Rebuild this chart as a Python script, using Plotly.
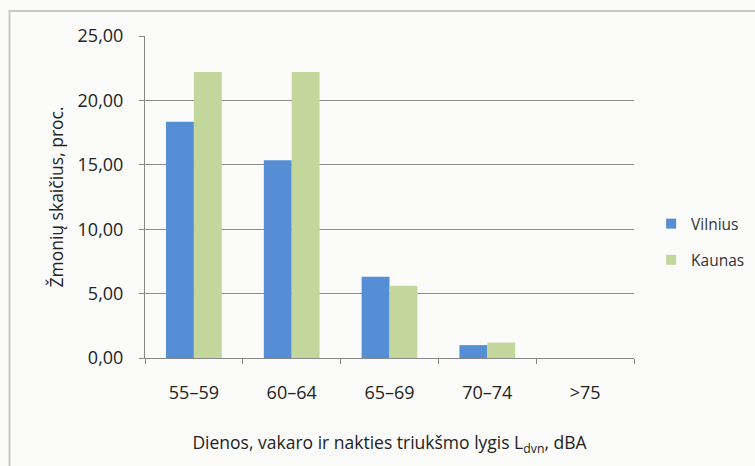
import plotly.graph_objects as go

categories = ["55\u201359", "60\u201364", "65\u201369", "70\u201374", ">75"]
vilnius = [18.35, 15.35, 6.3, 1.0, 0.0]
kaunas = [22.2, 22.2, 5.6, 1.2, 0.0]
series_names = ["Vilnius", "Kaunas"]
colors = ["#558ed5", "#c3d69b"]
y_ticks = [0, 5, 10, 15, 20, 25]

L, R, T, B = 145, 634, 36, 358
W, H = 755, 466

fig = go.Figure()
for name, vals, col in zip(series_names, [vilnius, kaunas], colors):
    fig.add_trace(go.Bar(name=name, x=categories, y=vals, marker_color=col,
                         marker_line_width=0, showlegend=False))
for name, col in zip(series_names, colors):
    fig.add_trace(go.Scatter(name=name, x=[None], y=[None], mode="markers",
                             marker=dict(symbol="square", size=10, color=col),
                             legendgroup=name, showlegend=True))

font_family = "Open Sans, Liberation Sans, sans-serif"
fig.update_layout(
    width=W, height=H,
    margin=dict(l=L, r=W - R, t=T, b=H - B, autoexpand=False),
    paper_bgcolor="#fbfcfa", plot_bgcolor="#fbfcfa",
    barmode="group", bargap=0.43, bargroupgap=0,
    separators=", ",
    font=dict(family=font_family, size=18, color="#333333"),
    showlegend=True,
    legend=dict(x=1.035, y=0.36, xanchor="left", yanchor="middle",
                bgcolor="rgba(0,0,0,0)", font=dict(size=15.5, color="#333333"),
                tracegroupgap=13, itemwidth=30),
    xaxis=dict(
        showline=True, linecolor="#888888", linewidth=1,
        ticks="outside", tickson="boundaries", ticklen=5, tickcolor="#888888",
        showgrid=False,
        title=dict(text="Dienos, vakaro ir nakties triukšmo lygis L<sub>dvn</sub>, dBA",
                   font=dict(size=17.5, color="#222222"), standoff=34),
        tickfont=dict(size=18, color="#222222"),
        ticklabelstandoff=18,
    ),
    yaxis=dict(
        range=[0, 25], tickvals=y_ticks, tickformat=".2f",
        showline=True, linecolor="#888888", linewidth=1,
        ticks="outside", ticklen=5, tickcolor="#888888",
        showgrid=True, gridcolor="#8c8c8c", gridwidth=1,
        zeroline=False,
        title=dict(text="Žmonių skaičius, proc.", font=dict(size=17.5, color="#222222"), standoff=9),
        tickfont=dict(size=18, color="#222222"),
        ticklabelstandoff=12,
    ),
    shapes=[dict(type="rect", xref="paper", yref="paper",
                 x0=(9.5 - L) / (R - L), x1=3,
                 y0=-3, y1=(B - 11) / (B - T),
                 line=dict(color="#c8c8c8", width=2), fillcolor="rgba(0,0,0,0)", layer="below")],
)

fig.write_html("out.html", config={"displayModeBar": False},
               post_script="document.body.style.margin='0';")
